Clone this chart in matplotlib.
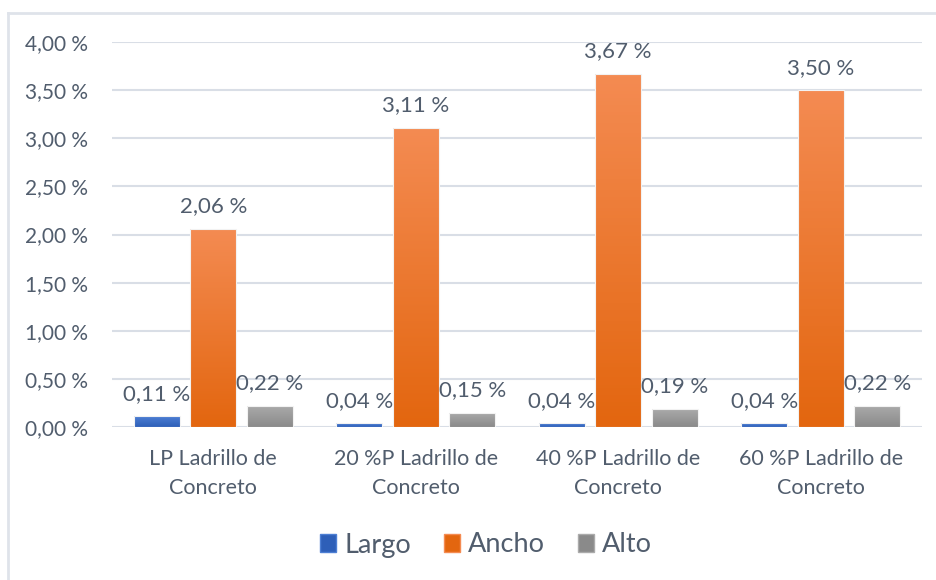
import matplotlib.pyplot as plt
import numpy as np
from matplotlib.colors import LinearSegmentedColormap
from matplotlib.lines import Line2D
from matplotlib.patches import Patch

categories = ['LP Ladrillo de\nConcreto', '20\u202f%P Ladrillo de\nConcreto',
              '40\u202f%P Ladrillo de\nConcreto', '60\u202f%P Ladrillo de\nConcreto']
series = ['Largo', 'Ancho', 'Alto']
largo = [0.11, 0.04, 0.04, 0.04]
ancho = [2.06, 3.11, 3.67, 3.50]
alto = [0.22, 0.15, 0.19, 0.22]
yticks = [0, 0.5, 1.0, 1.5, 2.0, 2.5, 3.0, 3.5, 4.0]

# light (top) / dark (bottom) for each series
grads = [('#4d7fd4', '#2e5fb8'), ('#f48b52', '#e3660f'), ('#ababab', '#8a8a8a')]
txt = '#515d6d'
fam = ['Lato', 'DejaVu Sans']

def pct(v):
    return ('%.2f' % v).replace('.', ',') + '\u202f%'

fig = plt.figure(figsize=(9.37, 5.8), dpi=100)
ax = fig.add_axes([112/937, 1-427/580, 810/937, 385/580])

ax.set_xlim(-0.5, 3.5)
ax.set_ylim(0, 4.0)
ax.set_yticks(yticks)
ax.set_yticklabels([pct(t) for t in yticks], fontsize=15, color=txt, family=fam)
ax.set_xticks(range(4))
ax.set_xticklabels(categories, fontsize=15.5, color=txt, family=fam, linespacing=1.55)
ax.tick_params(length=0)
ax.tick_params(axis='y', pad=17)
ax.tick_params(axis='x', pad=16)
for s in ax.spines.values():
    s.set_visible(False)
ax.grid(axis='y', color='#d9dee6', lw=1.5)
ax.set_axisbelow(True)

w = 0.227
off = 0.279
data = [largo, ancho, alto]
x = np.arange(4)
for k, vals in enumerate(data):
    cmap = LinearSegmentedColormap.from_list('g%d' % k, [grads[k][1], grads[k][0]])
    bars = ax.bar(x + (k-1)*off, vals, w, color='none', edgecolor='#f2f2f2', lw=0.8, zorder=3)
    for b, v in zip(bars, vals):
        x0 = b.get_x()
        im = ax.imshow(np.linspace(0, 1, 100).reshape(-1, 1), cmap=cmap, origin='lower',
                       extent=[x0, x0 + w, 0, v], aspect='auto', zorder=2)
        im.set_clip_path(b)
        ax.text(b.get_x() + w/2, v + 0.13, pct(v), ha='center', va='bottom',
                fontsize=16, color=txt, family=fam)
ax.set_xlim(-0.5, 3.5)
ax.set_ylim(0, 4.0)

handles = [Patch(facecolor=grads[k][1], edgecolor=grads[k][0]) for k in range(3)]
fig.legend(handles, series, loc='center', bbox_to_anchor=(486/937, 1-545/580), ncol=3,
           frameon=False, prop={'family': fam, 'size': 19.5}, labelcolor=txt,
           handlelength=0.6, handleheight=0.6, handletextpad=0.3, columnspacing=1.2)

# chart area border
fig.add_artist(Line2D([8/937, 8/937], [0, 1-13/580], transform=fig.transFigure,
                      color='#dfe3ea', lw=2))
fig.add_artist(Line2D([8/937, 1], [1-13/580, 1-13/580], transform=fig.transFigure,
                      color='#dfe3ea', lw=2))

fig.savefig('out.png', dpi=100)
